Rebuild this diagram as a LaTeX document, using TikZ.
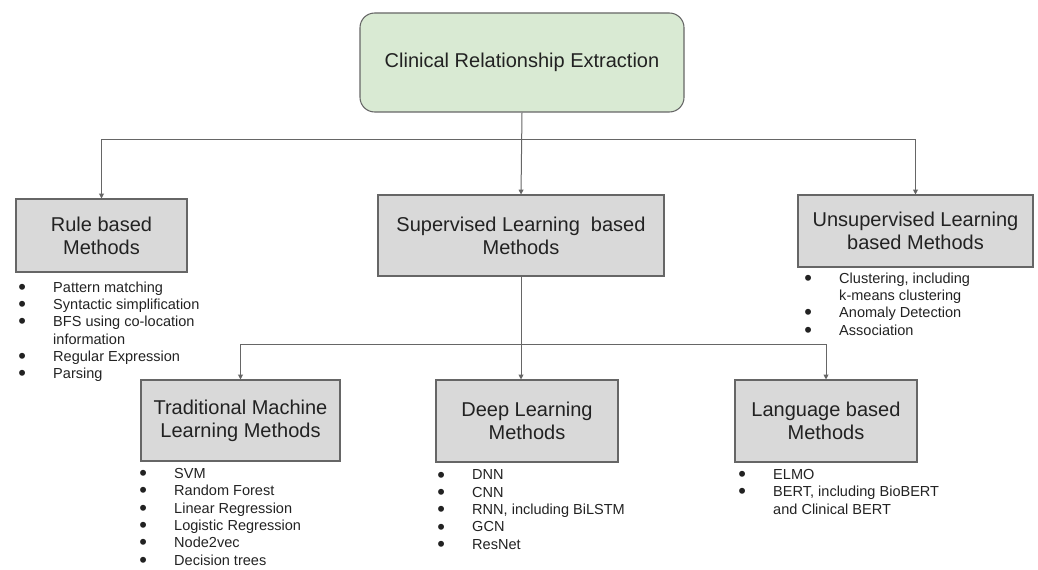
\documentclass[tikz,border=0pt]{standalone}
\usepackage{fontspec}
\usepackage{graphicx}
\setmainfont{Liberation Sans}
\usetikzlibrary{arrows.meta}
\definecolor{boxfill}{HTML}{D9D9D9}
\definecolor{topfill}{HTML}{D9EAD3}
\definecolor{edge}{HTML}{666666}
\definecolor{ink}{HTML}{222222}
\newcommand{\bl}{\makebox[25.1pt][l]{\hspace{-1pt}\smash{\raisebox{-1.6pt}{\scalebox{1.5}{•}}}}}
\newcommand{\ind}{\hspace*{25.1pt}}
\begin{document}
\begin{tikzpicture}[x=0.75pt,y=-0.75pt,
  boxstyle/.style={draw=edge, line width=0.8pt, fill=boxfill, align=center, inner sep=0pt,
    text=ink, font=\fontsize{15}{17.25}\selectfont},
  liststyle/.style={anchor=north west, align=left, inner sep=0pt, text=ink,
    font=\fontsize{10.9}{13}\selectfont},
  conn/.style={draw=edge, line width=0.75pt},
  arr/.style={conn, -{Triangle[length=3.6pt,width=3.6pt]}}]
\useasboundingbox (0,0) rectangle (1038,570);

\node[boxstyle, fill=topfill, rounded corners=11pt, minimum width={324*0.75pt}, minimum height={99*0.75pt}]
  (top) at (522,62.5) {Clinical Relationship Extraction};

\node[boxstyle, minimum width={171*0.75pt}, minimum height={73*0.75pt}] (rule) at (101.5,235.5) {Rule based\\Methods};
\node[boxstyle, minimum width={286*0.75pt}, minimum height={81*0.75pt}] (sup) at (521,235.5) {Supervised Learning\ \ based\\Methods};
\node[boxstyle, minimum width={235*0.75pt}, minimum height={72*0.75pt}] (unsup) at (915.5,231) {Unsupervised Learning\\based Methods};

\node[boxstyle, minimum width={199*0.75pt}, minimum height={81*0.75pt}] (trad) at (240.5,420.5) {Traditional Machine\\Learning Methods};
\node[boxstyle, minimum width={182*0.75pt}, minimum height={82*0.75pt}] (deep) at (527,421) {Deep Learning\\Methods};
\node[boxstyle, minimum width={182*0.75pt}, minimum height={82*0.75pt}] (lang) at (826,421) {Language based\\Methods};

% connectors
\coordinate (j1) at (522,140);
\coordinate (j2) at (522,344);
\draw[arr] (top.south) -- (sup.north);
\draw[arr] (j1) -| (rule.north);
\draw[arr] (j1) -| (unsup.north);
\draw[arr] (sup.south) -- (sup.south |- deep.north);
\draw[arr] (j2) -| (trad.north);
\draw[arr] (j2) -| (lang.north);

% lists
\node[liststyle] (rulelist) at (19.5,279.6) {\strut\bl Pattern matching\\
  \bl Syntactic simplification\\
  \bl BFS using co-location\\
  \ind information\\
  \bl Regular Expression\\
  \bl Parsing};
\node[liststyle] (unsuplist) at (805.5,270.6) {\strut\bl Clustering, including\\
  \ind k-means clustering\\
  \bl Anomaly Detection\\
  \bl Association};
\node[liststyle] (tradlist) at (140.5,466) {\strut\bl SVM\\
  \bl Random Forest\\
  \bl Linear Regression\\
  \bl Logistic Regression\\
  \bl Node2vec\\
  \bl Decision trees};
\node[liststyle] (deeplist) at (438.5,467.5) {\strut\bl DNN\\
  \bl CNN\\
  \bl RNN, including BiLSTM\\
  \bl GCN\\
  \bl ResNet};
\node[liststyle] (langlist) at (739.5,467) {\strut\bl ELMO\\
  \bl BERT, including BioBERT\\
  \ind and Clinical BERT};
\end{tikzpicture}
\end{document}
